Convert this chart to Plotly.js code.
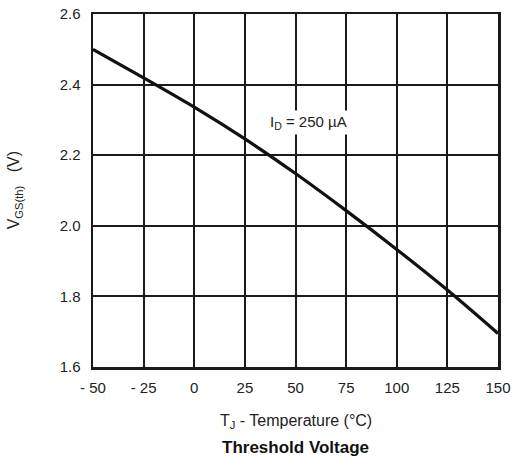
<!DOCTYPE html>
<html>
<head>
<meta charset="utf-8">
<script src="https://cdn.plot.ly/plotly-3.0.1.min.js"></script>
<style>html,body{margin:0;padding:0;background:#fff;}#chart{width:513px;height:459px;}</style>
</head>
<body>
<div id="chart"></div>
<script>
var temperature = [-50, -25, 0, 25, 50, 75, 100, 125, 150];
var vgsth = [2.50, 2.419, 2.336, 2.246, 2.148, 2.043, 1.933, 1.818, 1.695];
var xTickVals = [-50, -25, 0, 25, 50, 75, 100, 125, 150];
var xTickText = ['- 50', '- 25', '0', '25', '50', '75', '100', '125', '150'];
var yTickVals = [1.6, 1.8, 2.0, 2.2, 2.4, 2.6];
var yTickText = ['1.6', '1.8', '2.0', '2.2', '2.4', '2.6'];

var trace = {
  x: temperature, y: vgsth, type: 'scatter', mode: 'lines',
  line: {color: '#111', width: 3.2, shape: 'spline', smoothing: 1},
  hoverinfo: 'skip'
};

var layout = {
  width: 513, height: 459,
  margin: {l: 93, r: 15, t: 14, b: 92},
  paper_bgcolor: '#fff', plot_bgcolor: '#fff',
  font: {family: 'Liberation Sans, Arial, sans-serif', size: 15, color: '#222'},
  showlegend: false,
  xaxis: {
    range: [-50, 150], tickmode: 'array', tickvals: xTickVals, ticktext: xTickText,
    showgrid: true, gridcolor: '#1a1a1a', gridwidth: 2,
    showline: true, linecolor: '#1a1a1a', linewidth: 2.5, mirror: true,
    zeroline: false, ticks: '', ticklabelstandoff: 5,
    tickfont: {size: 15, color: '#222'}, fixedrange: true
  },
  yaxis: {
    range: [1.6, 2.6], tickmode: 'array', tickvals: yTickVals, ticktext: yTickText,
    showgrid: true, gridcolor: '#1a1a1a', gridwidth: 2,
    showline: true, linecolor: '#1a1a1a', linewidth: 2.5, mirror: true,
    zeroline: false, ticks: '', ticklabelstandoff: 7,
    tickfont: {size: 15, color: '#222'}, fixedrange: true
  },
  annotations: [
    {x: 56.3, y: 2.294, xref: 'x', yref: 'y', text: 'I<sub>D</sub> = 250 µA', showarrow: false,
     xanchor: 'center', yanchor: 'middle',
     bgcolor: '#fff', font: {size: 15, color: '#222'}, borderpad: 2},
    {x: 0.5, y: -0.155, xref: 'paper', yref: 'paper', text: 'T<sub>J</sub> - Temperature (°C)', showarrow: false,
     xanchor: 'center', yanchor: 'middle', font: {size: 16, color: '#222'}},
    {x: 0.5, y: -0.228, xref: 'paper', yref: 'paper', text: '<b>Threshold Voltage</b>', showarrow: false,
     xanchor: 'center', yanchor: 'middle', font: {size: 17, color: '#111'}},
    {x: -0.193, y: 0.5, xref: 'paper', yref: 'paper', text: 'V<sub>GS(th)</sub>   (V)', showarrow: false,
     xanchor: 'center', yanchor: 'middle', textangle: -90, font: {size: 16, color: '#222'}}
  ]
};

Plotly.newPlot('chart', [trace], layout, {staticPlot: true, displayModeBar: false});
</script>
</body>
</html>
